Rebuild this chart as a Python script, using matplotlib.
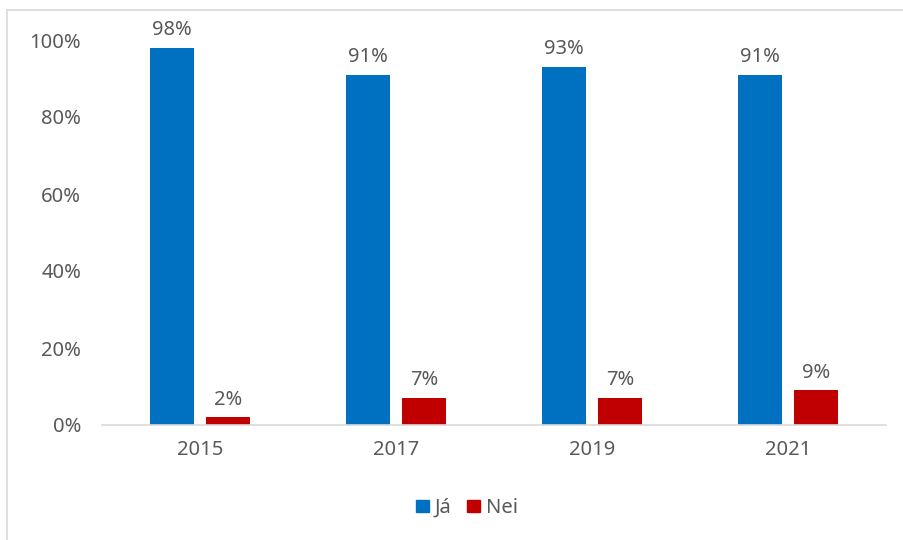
import matplotlib
matplotlib.use("Agg")
import matplotlib.pyplot as plt
import numpy as np
from matplotlib.lines import Line2D
from matplotlib.patches import Patch

years = ["2015", "2017", "2019", "2021"]
ja = [98, 91, 93, 91]
nei = [2, 7, 7, 9]
series_names = ["Já", "Nei"]
colors = ["#0070C0", "#C00000"]
txt = "#595959"

plt.rcParams['font.family'] = ['Noto Sans', 'DejaVu Sans']
FS = 14.5

W, H = 904, 540
fig = plt.figure(figsize=(W/100, H/100), dpi=100)
ax = fig.add_axes([102/W, 1-425/H, (886-102)/W, (425-40)/H])

x = np.arange(len(years))
bw = 0.225
off = 0.142
b1 = ax.bar(x-off, np.array(ja)/100, bw, color=colors[0], label=series_names[0])
b2 = ax.bar(x+off, np.array(nei)/100, bw, color=colors[1], label=series_names[1])
for bars, vals in ((b1, ja), (b2, nei)):
    for r, v in zip(bars, vals):
        ax.text(r.get_x()+r.get_width()/2, v/100 + 0.02, f"{v}%", ha='center', va='bottom',
                fontsize=FS, color=txt)

ax.set_xlim(-0.5, 3.5)
ax.set_ylim(0, 1)
ax.set_yticks(np.arange(0, 1.01, 0.2))
ax.set_yticklabels([f"{int(round(t*100))}%" for t in np.arange(0, 1.01, 0.2)])
ax.set_xticks(x)
ax.set_xticklabels(years)
for s in ['top', 'right', 'left']:
    ax.spines[s].set_visible(False)
ax.spines['bottom'].set_color('#D9D9D9')
ax.spines['bottom'].set_linewidth(1.2)
ax.tick_params(axis='both', length=0, labelsize=FS, colors=txt)
ax.tick_params(axis='y', pad=15)
ax.tick_params(axis='x', pad=11)

handles = [Patch(color=colors[0]), Patch(color=colors[1])]
leg = fig.legend(handles, series_names, loc='center', bbox_to_anchor=(467/W, 1-508/H), ncol=2,
                 frameon=False, fontsize=FS, handlelength=0.6, handleheight=0.6,
                 handletextpad=0.3, columnspacing=0.8)
for t in leg.get_texts():
    t.set_color(txt)

fig.add_artist(Line2D([7/W, 1], [1-10/H, 1-10/H], color='#D9D9D9', lw=1.2, transform=fig.transFigure))
fig.add_artist(Line2D([7/W, 7/W], [0, 1-10/H], color='#D9D9D9', lw=1.2, transform=fig.transFigure))

fig.savefig("out.png", dpi=100)
